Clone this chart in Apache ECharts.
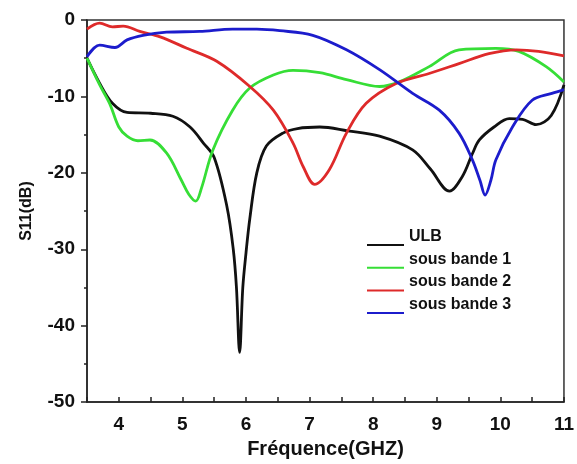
<!DOCTYPE html>
<html>
<head>
<meta charset="utf-8">
<script src="https://cdn.jsdelivr.net/npm/echarts@6/dist/echarts.min.js"></script>
<style>
  html, body { margin: 0; padding: 0; background: #fff; }
  #chart { width: 577px; height: 464px; }
</style>
</head>
<body>
<div id="chart"></div>
<script>
// S11 (dB) en fonction de la fréquence (GHz)
const seriesNames = ['ULB', 'sous bande 1', 'sous bande 2', 'sous bande 3']
const freqTicks = [4, 5, 6, 7, 8, 9, 10, 11]

const ulbFreq = [3.5, 3.7, 3.9, 4.13, 4.5, 4.85, 5.12, 5.33, 5.5, 5.7, 5.8, 5.85, 5.9, 5.95, 6.0, 6.06, 6.17, 6.32, 6.58, 6.81, 7.16, 7.6, 8.1, 8.62, 8.9, 9.2, 9.4, 9.56, 9.67, 9.9, 10.14, 10.35, 10.56, 10.8, 11]
const ulbS11 = [-5, -8.3, -10.9, -12.1, -12.2, -12.6, -14, -16.1, -18, -24.4, -30, -35, -43.5, -35, -30.5, -26, -20, -16.5, -14.8, -14.2, -14, -14.5, -15.2, -17, -19.5, -22.4, -20.5, -17.5, -15.7, -14, -12.9, -13, -13.7, -12.5, -8.5]

const sb1Freq = [3.5, 3.7, 3.86, 4.0, 4.13, 4.3, 4.49, 4.75, 4.98, 5.1, 5.21, 5.3, 5.48, 5.79, 6.06, 6.43, 6.74, 7.16, 7.58, 8.1, 8.41, 8.88, 9.35, 9.93, 10.29, 10.72, 11]
const sb1S11 = [-5, -8.5, -11, -14, -15.2, -15.8, -15.7, -17.4, -20.9, -22.8, -23.7, -22, -17, -11.8, -8.9, -7.2, -6.6, -6.9, -7.8, -8.7, -8.1, -6.1, -3.9, -3.7, -4.1, -6.1, -8.1]

const sb2Freq = [3.5, 3.7, 3.9, 4.07, 4.33, 4.65, 5.07, 5.54, 6.06, 6.43, 6.74, 6.9, 7.08, 7.31, 7.58, 7.89, 8.36, 8.88, 9.35, 9.82, 10.25, 10.6, 11]
const sb2S11 = [-1.2, -0.4, -0.9, -0.8, -1.5, -2.2, -3.7, -5.4, -8.7, -11.8, -16.1, -19.2, -21.5, -19.6, -14.8, -10.9, -8.3, -7, -5.7, -4.4, -3.9, -4.1, -4.7]

const sb3Freq = [3.5, 3.7, 3.94, 4.13, 4.38, 4.75, 5.27, 5.79, 6.17, 6.53, 7.05, 7.58, 8.1, 8.62, 9.04, 9.35, 9.56, 9.68, 9.76, 9.85, 9.93, 10.19, 10.5, 10.81, 11]
const sb3S11 = [-4.8, -3.3, -3.6, -2.6, -2, -1.6, -1.5, -1.2, -1.2, -1.4, -2, -3.9, -6.5, -9.6, -11.8, -14.8, -18.3, -21, -22.9, -21, -18.3, -14, -10.5, -9.6, -9.1]

const colors = ['#111111', '#36de36', '#de2a2a', '#1c1ccc']

const FONT = '"Liberation Sans", Arial, sans-serif'

function pairs(xs, ys) {
  return xs.map((x, i) => [x, ys[i]])
}

let myChart = echarts.init(document.getElementById('chart'))

const allData = [
  pairs(ulbFreq, ulbS11),
  pairs(sb1Freq, sb1S11),
  pairs(sb2Freq, sb2S11),
  pairs(sb3Freq, sb3S11)
]

const axisColor = '#222'

let option = {
  animation: false,
  backgroundColor: '#fff',
  color: colors,
  grid: {
    left: 87,
    right: 12,
    top: 20,
    bottom: 61,
    show: true,
    borderColor: '#333',
    borderWidth: 1.5
  },
  legend: {
    orient: 'vertical',
    left: 362,
    top: 222,
    itemWidth: 37,
    itemHeight: 19,
    itemGap: 3.7,
    // trait en bas de la case, comme un souligné
    icon: 'path://M0,0 L37,0 L37,0.01 L0,0.01 Z M0,17 L37,17 L37,19 L0,19 Z',
    data: seriesNames,
    textStyle: {
      fontFamily: FONT,
      fontWeight: 'bold',
      fontSize: 16,
      color: '#111'
    }
  },
  xAxis: {
    type: 'value',
    min: 3.5,
    max: 11,
    interval: 0.5,
    name: 'Fréquence(GHZ)',
    nameLocation: 'middle',
    nameGap: 33,
    nameTextStyle: {
      fontFamily: FONT,
      fontWeight: 'bold',
      fontSize: 20,
      color: '#111'
    },
    axisLine: { onZero: false, lineStyle: { color: axisColor, width: 1.5 } },
    axisTick: { inside: true, length: 5, lineStyle: { color: axisColor, width: 1.5 } },
    axisLabel: {
      margin: 13,
      customValues: freqTicks,
      fontFamily: FONT,
      fontWeight: 'bold',
      fontSize: 19,
      color: '#111'
    },
    splitLine: { show: false }
  },
  yAxis: {
    type: 'value',
    min: -50,
    max: 0,
    interval: 10,
    name: 'S11(dB)',
    nameLocation: 'middle',
    nameGap: 52,
    nameTextStyle: {
      fontFamily: FONT,
      fontWeight: 'bold',
      fontSize: 16,
      color: '#111'
    },
    axisLine: { show: true, onZero: false, lineStyle: { color: axisColor, width: 1.5 } },
    axisTick: { show: true, inside: false, length: 6, lineStyle: { color: axisColor, width: 1.5 } },
    minorTick: { show: true, splitNumber: 2, length: 3, lineStyle: { color: axisColor, width: 1.5 } },
    axisLabel: {
      margin: 12,
      fontFamily: FONT,
      fontWeight: 'bold',
      fontSize: 19,
      color: '#111'
    },
    splitLine: { show: false }
  },
  series: seriesNames.map((name, i) => ({
    name: name,
    type: 'line',
    data: allData[i],
    smooth: 0.35,
    showSymbol: false,
    lineStyle: { width: 2.8, color: colors[i] },
    itemStyle: { color: colors[i] }
  }))
}

myChart.setOption(option, true)
</script>
</body>
</html>
